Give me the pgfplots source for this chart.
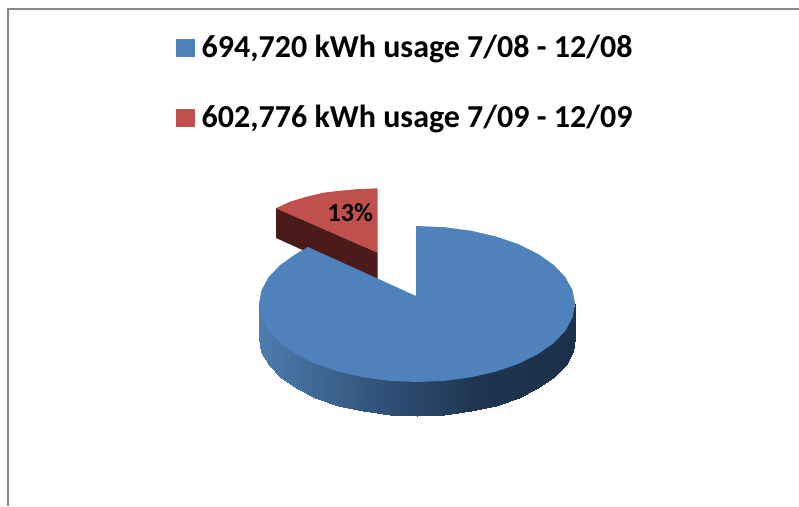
\documentclass[border=0pt]{standalone}
\usepackage{pgfplots}
\pgfplotsset{compat=1.18}
\usepackage{fontspec}
\setmainfont{Carlito}
\definecolor{pieblue}{RGB}{79,129,189}
\definecolor{piered}{RGB}{192,80,77}
\definecolor{darkred}{RGB}{74,27,24}
\definecolor{framegray}{RGB}{136,136,136}
\begin{document}
\begin{tikzpicture}
\useasboundingbox (0,0) rectangle (799pt,506pt);
\begin{axis}[
  at={(0,0)}, anchor=south west,
  scale only axis, width=799pt, height=506pt,
  xmin=0, xmax=799, ymin=0, ymax=506, y dir=reverse,
  hide axis, clip=true,
  colormap={side}{rgb255(0)=(76,124,174); rgb255(4)=(48,80,118); rgb255(7)=(30,52,80); rgb255(10)=(27,48,73)},
  point meta min=259, point meta max=575,
]
% frame
\addplot[framegray, line width=2.4pt, forget plot] coordinates {(7.8,506) (7.8,9.2) (799,9.2)};
% legend keys
\addplot[draw=none, fill=pieblue, forget plot] coordinates {(176,39) (194.5,39) (194.5,57) (176,57)} -- cycle;
\addplot[draw=none, fill=piered, forget plot] coordinates {(176,109) (194.5,109) (194.5,127) (176,127)} -- cycle;
% red slice, side
\addplot[draw=none, fill=darkred, forget plot] coordinates {(276,208) (377.5,252.5) (377.5,284) (276,238)} -- cycle;
% red slice, top
\addplot[draw=none, fill=piered, forget plot] coordinates {(276,208.3) (290,201.7) (306.7,196.7) (323.3,192.7) (340,190.7) (360,189) (377.7,188.3) (377.5,252.7)} -- cycle;
% blue slice, side wall (upper edge tucked under the top face)
\addplot[surf, shader=interp, mesh/rows=2, point meta=x, forget plot] table[row sep=\\] {
x y\\
259 304\\ 261.4 311.5\\ 268.5 324.7\\ 280.2 337\\ 296 348.1\\ 315.4 357.8\\ 338 365.5\\ 363 371.3\\ 389.6 374.8\\ 417 376\\ 444.4 374.8\\ 471 371.3\\ 496 365.5\\ 518.6 357.8\\ 538 348.1\\ 553.8 337\\ 565.5 324.7\\ 572.6 311.5\\ 575 304\\
259 338\\ 261.4 351.5\\ 268.5 364.7\\ 280.2 377\\ 296 388.1\\ 315.4 397.8\\ 338 405.5\\ 363 411.3\\ 389.6 414.8\\ 417 416\\ 444.4 414.8\\ 471 411.3\\ 496 405.5\\ 518.6 397.8\\ 538 388.1\\ 553.8 377\\ 565.5 364.7\\ 572.6 351.5\\ 575 338\\
};
% blue slice, top
\addplot[draw=none, fill=pieblue, forget plot] coordinates {
(416,226) (417,226) (444.4,227.2) (471,230.7) (496,236.5) (518.6,244.2) (538,253.9) (553.8,265) (565.5,277.3) (572.6,290.5) (575,304)
(572.6,317.5) (565.5,330.7) (553.8,343) (538,354.1) (518.6,363.8) (496,371.5) (471,377.3) (444.4,380.8) (417,382)
(389.6,380.8) (363,377.3) (338,371.5) (315.4,363.8) (296,354.1) (280.2,343) (268.5,330.7) (261.4,317.5) (259,304)
(261.4,290.5) (268.5,277.3) (280.2,265) (296,253.9) (308,247) (416,296)} -- cycle;
% texts
\node[anchor=base west, inner sep=0pt, text=black] at (axis cs:201.5,57) {\fontsize{32}{36}\selectfont\bfseries 694,720 kWh usage 7/08 - 12/08};
\node[anchor=base west, inner sep=0pt, text=black] at (axis cs:201.5,127) {\fontsize{32}{36}\selectfont\bfseries 602,776 kWh usage 7/09 - 12/09};
\node[anchor=base west, inner sep=0pt, text=black] at (axis cs:327.5,221.5) {\fontsize{26}{30}\selectfont\bfseries 13\%};
\end{axis}
\end{tikzpicture}
\end{document}
